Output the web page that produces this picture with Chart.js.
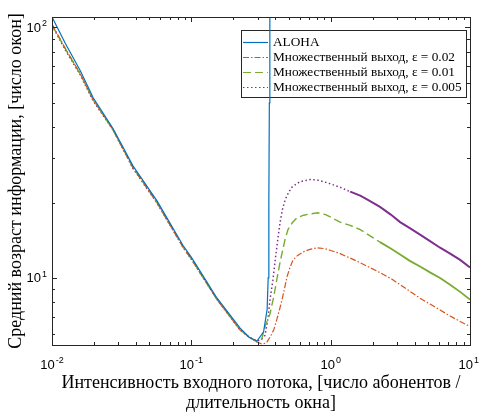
<!DOCTYPE html>
<html lang="ru">
<head>
    <meta charset="UTF-8">
    <title>Средний возраст информации</title>
    <script src="https://cdn.jsdelivr.net/npm/chart.js"></script>
    <style>
        body { margin: 0; background: #fff; }
        #wrap { width: 481px; height: 414px; }
    </style>
</head>
<body>
    <div id="wrap"><canvas id="ageChart" width="481" height="414"></canvas></div>
    <script>
        // Axis ticks: value and power of ten shown as 10^exp
        var xTickValues = [0.01, 0.1, 1, 10];
        var xTickExps = ['-2', '-1', '0', '1'];
        var yTickValues = [10, 100];
        var yTickExps = ['1', '2'];

        // ALOHA
        var alohaX = [0.01, 0.0125, 0.016, 0.0197, 0.0274, 0.0381, 0.0567, 0.087, 0.101, 0.153, 0.224, 0.26, 0.296, 0.33, 0.35, 0.356, 0.36, 0.363, 0.366];
        var alohaY = [110, 86, 67, 52.5, 39.5, 28, 20.3, 13.5, 12, 8.3, 6.3, 5.8, 5.6, 6.1, 7.5, 10, 20, 50, 200];

        // common falling part of the multiple-exit curves
        var descX = [0.01, 0.0125, 0.016, 0.0197, 0.0274, 0.0381, 0.0567, 0.087, 0.101, 0.153, 0.224, 0.26, 0.296];
        var desc002Y = [103, 82, 65, 51.5, 39.1, 27.5, 20, 13.3, 11.8, 8.2, 6.2, 5.8, 5.55];
        var desc001Y = [102, 82, 65, 51.5, 39, 27.6, 20, 13.3, 11.8, 8.2, 6.2, 5.8, 5.55];
        var desc0005Y = [102, 81, 64.5, 51, 39, 27.4, 19.9, 13.3, 11.8, 8.2, 6.2, 5.8, 5.6];

        // eps = 0.02
        var eps002X = [0.32, 0.345, 0.367, 0.39, 0.41, 0.43, 0.448, 0.467, 0.486, 0.51, 0.537, 0.58, 0.634, 0.71, 0.8, 0.9, 0.99, 1.17, 1.38, 1.63, 1.85, 2.26, 2.7, 3.15, 3.7, 4.38, 5.2, 6.1, 7.2, 8.5, 10];
        var eps002Y = [5.45, 5.5, 5.8, 6.2, 6.8, 7.5, 8.2, 9.1, 10.1, 11.0, 11.8, 12.3, 12.7, 13.0, 13.2, 13.1, 12.9, 12.5, 12.0, 11.5, 11.1, 10.5, 9.95, 9.4, 8.85, 8.3, 7.85, 7.45, 7.05, 6.7, 6.4];

        // eps = 0.01
        var eps001X = [0.32, 0.338, 0.367, 0.39, 0.41, 0.43, 0.448, 0.47, 0.494, 0.53, 0.574, 0.64, 0.711, 0.81, 0.92, 1.17, 1.38, 1.63, 2.26, 2.7, 3.15, 3.7, 4.38, 5.2, 6.1, 7.2, 8.5, 10];
        var eps001Y = [5.7, 6.4, 7.2, 8.4, 9.8, 11.3, 12.6, 14.2, 15.6, 16.6, 17.4, 17.8, 18.0, 18.2, 17.9, 16.7, 16.2, 15.6, 13.9, 13.1, 12.4, 11.7, 11.1, 10.5, 10.0, 9.4, 8.8, 8.2];

        // eps = 0.005
        var eps0005X = [0.32, 0.338, 0.355, 0.367, 0.385, 0.40, 0.417, 0.433, 0.45, 0.471, 0.5, 0.53, 0.6, 0.711, 0.8, 0.94, 1.17, 1.38, 1.63, 1.85, 2.26, 2.7, 3.15, 3.7, 4.38, 5.2, 6.1, 7.2, 8.5, 10];
        var eps0005Y = [5.7, 5.9, 6.9, 8.2, 9.8, 11.8, 14.2, 16.6, 18.7, 20.5, 22.0, 23.1, 24.2, 24.7, 24.6, 24.0, 23.0, 22.1, 21.3, 20.5, 19.2, 17.9, 16.7, 15.8, 14.9, 14.0, 13.2, 12.5, 11.8, 11.0];

        function toPoints(xs, ys) {
            var pts = [];
            for (var i = 0; i < xs.length; i++) pts.push({ x: xs[i], y: ys[i] });
            return pts;
        }

        // noisy tail of the simulation looks like a solid thick band
        function tailStyle(fromX, dash, thin, thick) {
            return {
                borderDash: function (c) { return c.p0.parsed.x >= fromX ? [] : dash; },
                borderWidth: function (c) { return c.p0.parsed.x >= fromX ? thick : thin; }
            };
        }

        var serif = "'Liberation Serif', 'Times New Roman', serif";
        var sans = "'Liberation Sans', Arial, sans-serif";
        var axisColor = '#262626';

        // draws "10" with a raised exponent; align: 'center' or 'right'
        function drawPow(ctx, exp, x, baseY, align) {
            ctx.font = '13px ' + sans;
            var wb = ctx.measureText('10').width;
            ctx.font = '9px ' + sans;
            var we = ctx.measureText(exp).width;
            var total = wb + 1 + we;
            var left = align === 'right' ? x - total : x - total / 2;
            if (left + total > 479) left = 479 - total;
            ctx.font = '13px ' + sans;
            ctx.fillText('10', left, baseY);
            ctx.font = '9px ' + sans;
            ctx.fillText(exp, left + wb + 1, baseY - 5.5);
        }

        // box with inward ticks on all four sides and power-of-ten labels
        var boxTicks = {
            id: 'boxTicks',
            afterDraw: function (chart) {
                var ctx = chart.ctx, a = chart.chartArea;
                var xs = chart.scales.x, ys = chart.scales.y;
                ctx.save();
                ctx.strokeStyle = axisColor;
                ctx.lineWidth = 1;
                ctx.beginPath();
                var d, m, v, p, len, i;
                for (d = -2; d <= 1; d++) {
                    for (m = 1; m <= 9; m++) {
                        v = m * Math.pow(10, d);
                        if (v > 10.0001) break;
                        p = Math.round(xs.getPixelForValue(v)) + 0.5;
                        len = m === 1 ? 5 : 3;
                        ctx.moveTo(p, a.bottom); ctx.lineTo(p, a.bottom - len);
                        ctx.moveTo(p, a.top); ctx.lineTo(p, a.top + len);
                    }
                }
                for (d = 0; d <= 2; d++) {
                    for (m = 1; m <= 9; m++) {
                        v = m * Math.pow(10, d);
                        if (v < ys.min || v > ys.max) continue;
                        p = Math.round(ys.getPixelForValue(v)) + 0.5;
                        len = m === 1 ? 5 : 3;
                        ctx.moveTo(a.left, p); ctx.lineTo(a.left + len, p);
                        ctx.moveTo(a.right, p); ctx.lineTo(a.right - len, p);
                    }
                }
                ctx.stroke();
                ctx.strokeRect(Math.round(a.left) + 0.5, Math.round(a.top) + 0.5,
                    Math.round(a.right - a.left), Math.round(a.bottom - a.top));

                ctx.fillStyle = '#000';
                ctx.textBaseline = 'alphabetic';
                ctx.textAlign = 'left';
                for (i = 0; i < xTickValues.length; i++) {
                    drawPow(ctx, xTickExps[i], xs.getPixelForValue(xTickValues[i]), a.bottom + 23.5, 'center');
                }
                for (i = 0; i < yTickValues.length; i++) {
                    drawPow(ctx, yTickExps[i], a.left - 5, ys.getPixelForValue(yTickValues[i]) + 4.5, 'right');
                }
                ctx.restore();
            }
        };

        // legend box inside the plot, under the lines
        var innerLegend = {
            id: 'innerLegend',
            beforeDatasetsDraw: function (chart) {
                var ctx = chart.ctx;
                var bx = 241.5, by = 30.5, bw = 225, bh = 67;
                ctx.save();
                ctx.fillStyle = '#fff';
                ctx.fillRect(bx, by, bw, bh);
                ctx.strokeStyle = axisColor;
                ctx.lineWidth = 1;
                ctx.strokeRect(bx, by, bw, bh);
                ctx.font = '13.3px ' + serif;
                ctx.textBaseline = 'middle';
                chart.data.datasets.forEach(function (ds, i) {
                    var y = 42.5 + i * 15;
                    ctx.beginPath();
                    ctx.setLineDash(ds.legendDash || []);
                    ctx.strokeStyle = ds.borderColor;
                    ctx.lineWidth = 1.2;
                    ctx.moveTo(243, y);
                    ctx.lineTo(268, y);
                    ctx.stroke();
                    ctx.setLineDash([]);
                    ctx.fillStyle = '#000';
                    ctx.fillText(ds.label, 273, y);
                });
                ctx.restore();
            }
        };

        var ctx = document.getElementById('ageChart').getContext('2d');
        var ageChart = new Chart(ctx, {
            type: 'line',
            data: {
                datasets: [{
                    label: 'ALOHA',
                    data: toPoints(alohaX, alohaY),
                    borderColor: '#0072BD',
                    borderWidth: 1.2
                }, {
                    label: 'Множественный выход, \u03B5 = 0.02',
                    data: toPoints(descX.concat(eps002X), desc002Y.concat(eps002Y)),
                    borderColor: '#D95319',
                    borderDash: [6, 2, 1.5, 2],
                    legendDash: [6, 2, 1.5, 2],
                    borderWidth: 1.2,
                    segment: tailStyle(99, [6, 2, 1.5, 2], 1.2, 1.2)
                }, {
                    label: 'Множественный выход, \u03B5 = 0.01',
                    data: toPoints(descX.concat(eps001X), desc001Y.concat(eps001Y)),
                    borderColor: '#77AC30',
                    borderDash: [8, 4],
                    legendDash: [8, 4],
                    borderWidth: 1.4,
                    segment: tailStyle(2.2, [8, 4], 1.4, 1.8)
                }, {
                    label: 'Множественный выход, \u03B5 = 0.005',
                    data: toPoints(descX.concat(eps0005X), desc0005Y.concat(eps0005Y)),
                    borderColor: '#7E2F8E',
                    borderDash: [1.5, 2.5],
                    legendDash: [1.5, 2.5],
                    borderWidth: 1.5,
                    segment: tailStyle(1.3, [1.5, 2.5], 1.5, 2)
                }]
            },
            options: {
                responsive: false,
                animation: false,
                layout: { padding: { top: 17, right: 11, left: 0, bottom: 0 } },
                elements: { point: { radius: 0 }, line: { tension: 0 } },
                plugins: { legend: { display: false }, tooltip: { enabled: false } },
                scales: {
                    x: {
                        type: 'logarithmic',
                        min: 0.01,
                        max: 10,
                        grid: { display: false },
                        border: { display: false },
                        ticks: { display: false },
                        afterFit: function (scale) {
                            scale.height = 69;
                            scale.paddingLeft = 0;
                            scale.paddingRight = 0;
                        },
                        title: {
                            display: true,
                            text: ['Интенсивность входного потока, [число абонентов /', 'длительность окна]'],
                            color: '#000',
                            font: { family: serif, size: 18, lineHeight: 1.1 },
                            padding: { top: 0, bottom: 1 }
                        }
                    },
                    y: {
                        type: 'logarithmic',
                        min: 5.4,
                        max: 110,
                        grid: { display: false },
                        border: { display: false },
                        ticks: { display: false },
                        afterFit: function (scale) {
                            scale.width = 52;
                        },
                        title: {
                            display: true,
                            text: 'Средний возраст информации, [число окон]',
                            color: '#000',
                            font: { family: serif, size: 18, lineHeight: 1.1 },
                            padding: { top: 6, bottom: 0 }
                        }
                    }
                }
            },
            plugins: [boxTicks, innerLegend]
        });
    </script>
</body>
</html>
